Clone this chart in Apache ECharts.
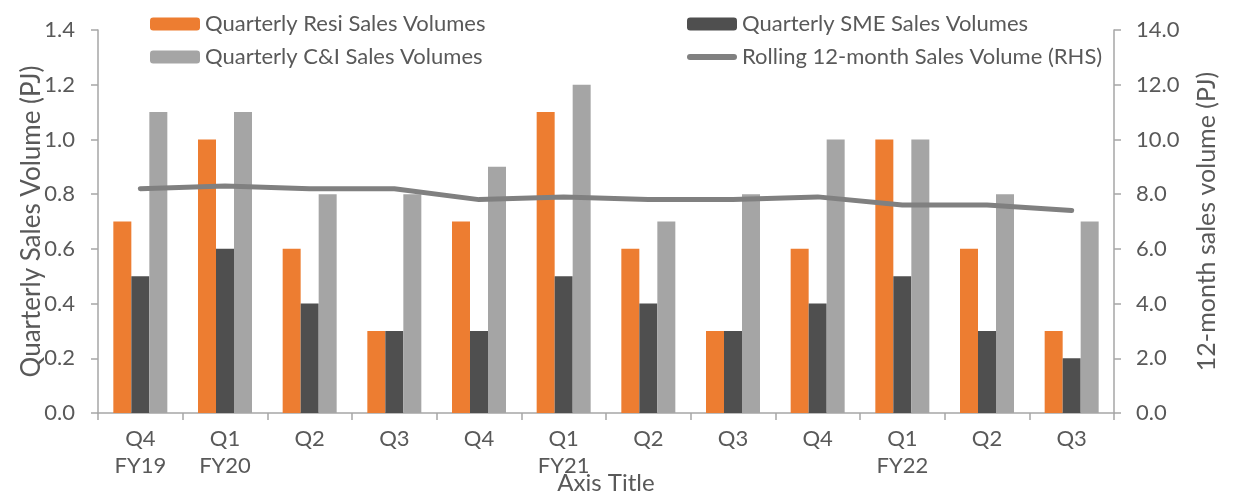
<!DOCTYPE html>
<html>
<head>
    <meta charset="utf-8">
    <title>Quarterly Sales Volumes</title>
    <script src="https://cdn.jsdelivr.net/npm/echarts@6/dist/echarts.min.js"></script>
    <style>
        html, body { margin: 0; padding: 0; background: #fff; }
        #chart { width: 1234px; height: 501px; }
    </style>
</head>
<body>
    <div id="chart"></div>

    <script type="text/javascript">
        // quarter labels (fiscal year shown on the first quarter of each year)
        var quarters = ['Q4\nFY19', 'Q1\nFY20', 'Q2', 'Q3', 'Q4', 'Q1\nFY21', 'Q2', 'Q3', 'Q4', 'Q1\nFY22', 'Q2', 'Q3'];

        var resiSales = [0.7, 1.0, 0.6, 0.3, 0.7, 1.1, 0.6, 0.3, 0.6, 1.0, 0.6, 0.3];
        var smeSales = [0.5, 0.6, 0.4, 0.3, 0.3, 0.5, 0.4, 0.3, 0.4, 0.5, 0.3, 0.2];
        var cniSales = [1.1, 1.1, 0.8, 0.8, 0.9, 1.2, 0.7, 0.8, 1.0, 1.0, 0.8, 0.7];
        var rolling12m = [8.2, 8.3, 8.2, 8.2, 7.8, 7.9, 7.8, 7.8, 7.9, 7.6, 7.6, 7.4];

        var txt = '#595959';
        var axisGrey = '#a6a6a6';
        var font = 'Lato, "Open Sans", sans-serif';
        var fs = 22;

        var myChart = echarts.init(document.getElementById('chart'), null, { renderer: 'canvas' });

        var legendText = { color: txt, fontSize: fs, fontFamily: font };
        // flat rounded bar for the line legend entry (no marker dot)
        var lineIcon = 'path://M3,0 H47 A3,3 0 0 1 47,6 H3 A3,3 0 0 1 3,0 Z';

        function oneDecimal(v) { return v.toFixed(1); }

        var option = {
            animation: false,
            textStyle: { fontFamily: font },
            grid: { left: 98, right: 120, top: 30, bottom: 88, outerBoundsMode: 'none' },
            legend: [
                {
                    orient: 'vertical', left: 145, top: 8, itemGap: 11,
                    itemWidth: 50, itemHeight: 13, textStyle: legendText,
                    data: ['Quarterly Resi Sales Volumes', 'Quarterly C&I Sales Volumes']
                },
                {
                    orient: 'vertical', left: 682, top: 8, itemGap: 11,
                    itemWidth: 50, itemHeight: 13, textStyle: legendText,
                    data: ['Quarterly SME Sales Volumes',
                        { name: 'Rolling 12-month Sales Volume (RHS)', icon: lineIcon }]
                }
            ],
            xAxis: {
                type: 'category',
                data: quarters,
                name: 'Axis Title',
                nameLocation: 'middle',
                nameGap: 58,
                nameMoveOverlap: false,
                nameTextStyle: { color: txt, fontSize: 24 },
                axisLine: { lineStyle: { color: axisGrey, width: 1.5 } },
                axisTick: { show: true, length: 7, lineStyle: { color: axisGrey, width: 1.5 } },
                axisLabel: { color: txt, fontSize: fs, lineHeight: 27, margin: 12 },
                splitLine: { show: false }
            },
            yAxis: [
                {
                    type: 'value', min: 0, max: 1.4, interval: 0.2,
                    name: 'Quarterly Sales Volume (PJ)',
                    nameLocation: 'middle', nameGap: 53, nameRotate: 90,
                    nameMoveOverlap: false,
                    nameTextStyle: { color: txt, fontSize: 26 },
                    axisLine: { show: true, lineStyle: { color: axisGrey, width: 1.5 } },
                    axisTick: { show: true, length: 7, lineStyle: { color: axisGrey, width: 1.5 } },
                    axisLabel: { color: txt, fontSize: fs, margin: 23, formatter: oneDecimal },
                    splitLine: { show: false }
                },
                {
                    type: 'value', min: 0, max: 14, interval: 2,
                    name: '12-month sales volume (PJ)',
                    nameLocation: 'middle', nameGap: 80, nameRotate: 90,
                    nameMoveOverlap: false,
                    nameTextStyle: { color: txt, fontSize: 25 },
                    axisLine: { show: true, lineStyle: { color: axisGrey, width: 1.5 } },
                    axisTick: { show: true, length: 7, lineStyle: { color: axisGrey, width: 1.5 } },
                    axisLabel: { color: txt, fontSize: fs, margin: 22, formatter: oneDecimal },
                    splitLine: { show: false }
                }
            ],
            series: [
                {
                    name: 'Quarterly Resi Sales Volumes', type: 'bar', data: resiSales,
                    barWidth: 18, barGap: '0%', itemStyle: { color: '#ed7d31' }
                },
                {
                    name: 'Quarterly SME Sales Volumes', type: 'bar', data: smeSales,
                    barWidth: 18, barGap: '0%', itemStyle: { color: '#4f4f4f' }
                },
                {
                    name: 'Quarterly C&I Sales Volumes', type: 'bar', data: cniSales,
                    barWidth: 18, barGap: '0%', itemStyle: { color: '#a5a5a5' }
                },
                {
                    name: 'Rolling 12-month Sales Volume (RHS)', type: 'line', yAxisIndex: 1,
                    data: rolling12m, symbol: 'none', z: 5,
                    itemStyle: { color: '#808080' },
                    lineStyle: { color: '#808080', width: 5, cap: 'round', join: 'round' }
                }
            ]
        };

        myChart.setOption(option);
    </script>
</body>
</html>
